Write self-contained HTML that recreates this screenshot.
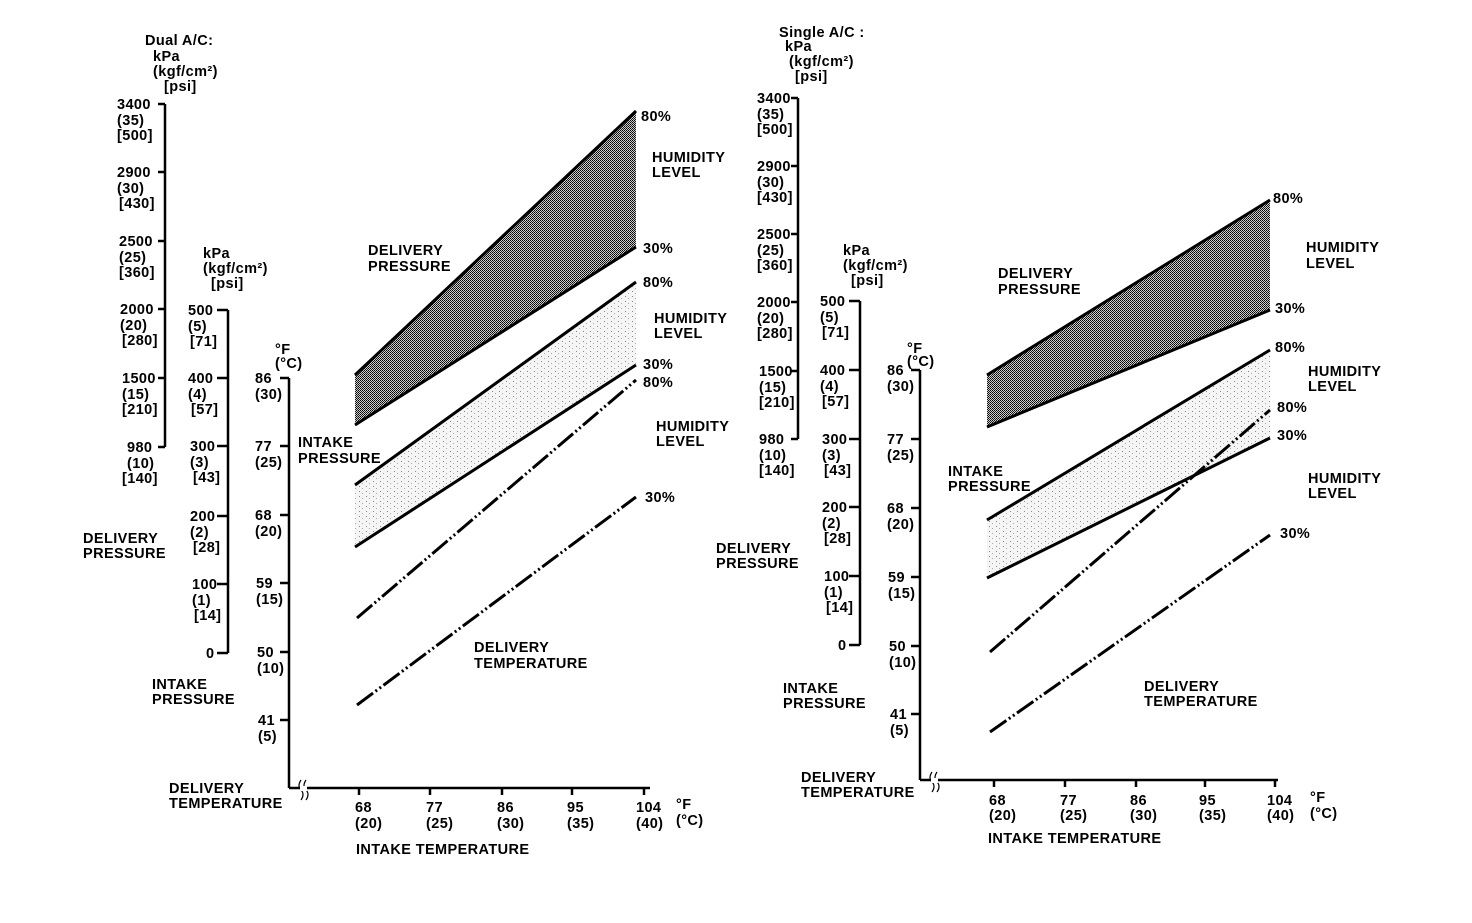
<!DOCTYPE html>
<html><head><meta charset="utf-8"><style>
html,body{margin:0;padding:0;background:#fff;}
svg text{font-family:"Liberation Sans",sans-serif;font-weight:bold;font-size:14.5px;letter-spacing:0.4px;fill:#000;}
</style></head><body>
<svg width="1472" height="918" viewBox="0 0 1472 918" xmlns="http://www.w3.org/2000/svg">
<defs>
<pattern id="dk" width="2" height="2" patternUnits="userSpaceOnUse"><rect width="2" height="2" fill="#ccc"/><rect width="1" height="1" fill="#000"/><rect x="1" y="1" width="1" height="1" fill="#222"/></pattern>
<pattern id="lt" width="7" height="5" patternUnits="userSpaceOnUse"><rect width="7" height="5" fill="#f5f5f5"/><rect x="2" y="1" width="1" height="1" fill="#888"/><rect x="5" y="3" width="1" height="1" fill="#aaa"/></pattern>
</defs>
<g stroke="#000" fill="none" stroke-width="2.5">
<line x1="165" y1="104" x2="165" y2="447"/>
<line x1="158" y1="104" x2="165" y2="104"/><line x1="158" y1="172" x2="165" y2="172"/><line x1="158" y1="241" x2="165" y2="241"/><line x1="158" y1="309" x2="165" y2="309"/><line x1="158" y1="378" x2="165" y2="378"/><line x1="158" y1="447" x2="165" y2="447"/>
<line x1="228" y1="310" x2="228" y2="653"/>
<line x1="217" y1="310" x2="228" y2="310"/><line x1="217" y1="378" x2="228" y2="378"/><line x1="217" y1="446" x2="228" y2="446"/><line x1="217" y1="516" x2="228" y2="516"/><line x1="217" y1="584" x2="228" y2="584"/><line x1="217" y1="653" x2="228" y2="653"/>
<line x1="289" y1="378" x2="289" y2="788"/>
<line x1="280" y1="378" x2="289" y2="378"/><line x1="280" y1="446" x2="289" y2="446"/><line x1="280" y1="515" x2="289" y2="515"/><line x1="280" y1="583" x2="289" y2="583"/><line x1="280" y1="652" x2="289" y2="652"/><line x1="280" y1="720" x2="289" y2="720"/>
<line x1="289" y1="788" x2="650" y2="788"/>
<line x1="359" y1="788" x2="359" y2="795"/><line x1="430" y1="788" x2="430" y2="795"/><line x1="502" y1="788" x2="502" y2="795"/><line x1="572" y1="788" x2="572" y2="795"/><line x1="644" y1="788" x2="644" y2="795"/>
<line x1="798" y1="98" x2="798" y2="439"/>
<line x1="791" y1="98" x2="798" y2="98"/><line x1="791" y1="166" x2="798" y2="166"/><line x1="791" y1="234" x2="798" y2="234"/><line x1="791" y1="302" x2="798" y2="302"/><line x1="791" y1="371" x2="798" y2="371"/><line x1="791" y1="439" x2="798" y2="439"/>
<line x1="860" y1="301" x2="860" y2="645"/>
<line x1="849" y1="301" x2="860" y2="301"/><line x1="849" y1="370" x2="860" y2="370"/><line x1="849" y1="439" x2="860" y2="439"/><line x1="849" y1="507" x2="860" y2="507"/><line x1="849" y1="576" x2="860" y2="576"/><line x1="849" y1="645" x2="860" y2="645"/>
<line x1="920" y1="370" x2="920" y2="780"/>
<line x1="911" y1="370" x2="920" y2="370"/><line x1="911" y1="439" x2="920" y2="439"/><line x1="911" y1="508" x2="920" y2="508"/><line x1="911" y1="577" x2="920" y2="577"/><line x1="911" y1="646" x2="920" y2="646"/><line x1="911" y1="714" x2="920" y2="714"/>
<line x1="920" y1="780" x2="1278" y2="780"/>
<line x1="994" y1="780" x2="994" y2="787"/><line x1="1065" y1="780" x2="1065" y2="787"/><line x1="1136" y1="780" x2="1136" y2="787"/><line x1="1205" y1="780" x2="1205" y2="787"/><line x1="1275" y1="780" x2="1275" y2="787"/>
</g>
<g stroke="#000" stroke-width="1.2" fill="none">
<path d="M301 780 q-4 6 0 10 q4 4 0 10"/><path d="M306 780 q-4 6 0 10 q4 4 0 10"/>
<path d="M932 772 q-4 6 0 10 q4 4 0 10"/><path d="M937 772 q-4 6 0 10 q4 4 0 10"/>
</g>
<rect x="300" y="786" width="7" height="5" fill="#fff"/><rect x="931" y="778" width="7" height="5" fill="#fff"/>
<polygon points="355,375 636,111 636,247 355,425" fill="url(#dk)"/>
<polygon points="355,485 636,282 636,365 355,547" fill="url(#lt)"/>
<g stroke="#000" stroke-width="3" fill="none">
<line x1="355" y1="375" x2="636" y2="111"/><line x1="355" y1="425" x2="636" y2="247"/>
<line x1="355" y1="485" x2="636" y2="282"/><line x1="355" y1="547" x2="636" y2="365"/>
<line x1="357" y1="618" x2="636" y2="380" stroke-dasharray="20 3 2 3 2 3"/>
<line x1="357" y1="705" x2="636" y2="497" stroke-dasharray="20 3 2 3 2 3"/>
</g>
<polygon points="987,375 1270,200 1270,310 987,427" fill="url(#dk)"/>
<polygon points="987,520 1270,350 1270,438 987,578" fill="url(#lt)"/>
<g stroke="#000" stroke-width="3" fill="none">
<line x1="987" y1="375" x2="1270" y2="200"/><line x1="987" y1="427" x2="1270" y2="310"/>
<line x1="987" y1="520" x2="1270" y2="350"/><line x1="987" y1="578" x2="1270" y2="438"/>
<line x1="990" y1="652" x2="1270" y2="410" stroke-dasharray="20 3 2 3 2 3"/>
<line x1="990" y1="732" x2="1270" y2="535" stroke-dasharray="20 3 2 3 2 3"/>
</g>
<text x="145" y="45">Dual A/C:</text>
<text x="153" y="61">kPa</text><text x="153" y="76">(kgf/cm²)</text><text x="164" y="91">[psi]</text>
<text x="117" y="109">3400</text><text x="117" y="125">(35)</text><text x="117" y="140">[500]</text>
<text x="117" y="177">2900</text><text x="117" y="193">(30)</text><text x="119" y="208">[430]</text>
<text x="119" y="246">2500</text><text x="119" y="262">(25)</text><text x="119" y="277">[360]</text>
<text x="120" y="314">2000</text><text x="120" y="330">(20)</text><text x="122" y="345">[280]</text>
<text x="122" y="383">1500</text><text x="122" y="399">(15)</text><text x="122" y="414">[210]</text>
<text x="127" y="452">980</text><text x="127" y="468">(10)</text><text x="122" y="483">[140]</text>
<text x="203" y="258">kPa</text><text x="203" y="273">(kgf/cm²)</text><text x="211" y="288">[psi]</text>
<text x="188" y="315">500</text><text x="188" y="331">(5)</text><text x="190" y="346">[71]</text>
<text x="188" y="383">400</text><text x="188" y="399">(4)</text><text x="191" y="414">[57]</text>
<text x="190" y="451">300</text><text x="190" y="467">(3)</text><text x="193" y="482">[43]</text>
<text x="190" y="521">200</text><text x="190" y="537">(2)</text><text x="193" y="552">[28]</text>
<text x="192" y="589">100</text><text x="192" y="605">(1)</text><text x="194" y="620">[14]</text>
<text x="206" y="658">0</text>
<text x="275" y="354">°F</text><text x="275" y="368">(°C)</text>
<text x="255" y="383">86</text><text x="255" y="399">(30)</text>
<text x="255" y="451">77</text><text x="255" y="467">(25)</text>
<text x="255" y="520">68</text><text x="255" y="536">(20)</text>
<text x="256" y="588">59</text><text x="256" y="604">(15)</text>
<text x="257" y="657">50</text><text x="257" y="673">(10)</text>
<text x="258" y="725">41</text><text x="258" y="741">(5)</text>
<text x="355" y="812">68</text><text x="355" y="828">(20)</text>
<text x="426" y="812">77</text><text x="426" y="828">(25)</text>
<text x="497" y="812">86</text><text x="497" y="828">(30)</text>
<text x="567" y="812">95</text><text x="567" y="828">(35)</text>
<text x="636" y="812">104</text><text x="636" y="828">(40)</text>
<text x="676" y="809">°F</text><text x="676" y="825">(°C)</text>
<text x="356" y="854">INTAKE TEMPERATURE</text>
<text x="83" y="543">DELIVERY</text><text x="83" y="558">PRESSURE</text>
<text x="152" y="689">INTAKE</text><text x="152" y="704">PRESSURE</text>
<text x="169" y="793">DELIVERY</text><text x="169" y="808">TEMPERATURE</text>
<text x="641" y="121">80%</text>
<text x="652" y="162">HUMIDITY</text><text x="652" y="177">LEVEL</text>
<text x="643" y="253">30%</text>
<text x="368" y="255">DELIVERY</text><text x="368" y="271">PRESSURE</text>
<text x="643" y="287">80%</text>
<text x="654" y="323">HUMIDITY</text><text x="654" y="338">LEVEL</text>
<text x="643" y="369">30%</text><text x="643" y="387">80%</text>
<text x="656" y="431">HUMIDITY</text><text x="656" y="446">LEVEL</text>
<text x="645" y="502">30%</text>
<text x="298" y="447">INTAKE</text><text x="298" y="463">PRESSURE</text>
<text x="474" y="652">DELIVERY</text><text x="474" y="668">TEMPERATURE</text>
<text x="779" y="37">Single A/C :</text>
<text x="785" y="51">kPa</text><text x="789" y="66">(kgf/cm²)</text><text x="795" y="81">[psi]</text>
<text x="757" y="103">3400</text><text x="757" y="119">(35)</text><text x="757" y="134">[500]</text>
<text x="757" y="171">2900</text><text x="757" y="187">(30)</text><text x="757" y="202">[430]</text>
<text x="757" y="239">2500</text><text x="757" y="255">(25)</text><text x="757" y="270">[360]</text>
<text x="757" y="307">2000</text><text x="757" y="323">(20)</text><text x="757" y="338">[280]</text>
<text x="759" y="376">1500</text><text x="759" y="392">(15)</text><text x="759" y="407">[210]</text>
<text x="759" y="444">980</text><text x="759" y="460">(10)</text><text x="759" y="475">[140]</text>
<text x="843" y="255">kPa</text><text x="843" y="270">(kgf/cm²)</text><text x="851" y="285">[psi]</text>
<text x="820" y="306">500</text><text x="820" y="322">(5)</text><text x="822" y="337">[71]</text>
<text x="820" y="375">400</text><text x="820" y="391">(4)</text><text x="822" y="406">[57]</text>
<text x="822" y="444">300</text><text x="822" y="460">(3)</text><text x="824" y="475">[43]</text>
<text x="822" y="512">200</text><text x="822" y="528">(2)</text><text x="824" y="543">[28]</text>
<text x="824" y="581">100</text><text x="824" y="597">(1)</text><text x="826" y="612">[14]</text>
<text x="838" y="650">0</text>
<text x="907" y="353">°F</text><text x="907" y="366">(°C)</text>
<text x="887" y="375">86</text><text x="887" y="391">(30)</text>
<text x="887" y="444">77</text><text x="887" y="460">(25)</text>
<text x="887" y="513">68</text><text x="887" y="529">(20)</text>
<text x="888" y="582">59</text><text x="888" y="598">(15)</text>
<text x="889" y="651">50</text><text x="889" y="667">(10)</text>
<text x="890" y="719">41</text><text x="890" y="735">(5)</text>
<text x="989" y="805">68</text><text x="989" y="820">(20)</text>
<text x="1060" y="805">77</text><text x="1060" y="820">(25)</text>
<text x="1130" y="805">86</text><text x="1130" y="820">(30)</text>
<text x="1199" y="805">95</text><text x="1199" y="820">(35)</text>
<text x="1267" y="805">104</text><text x="1267" y="820">(40)</text>
<text x="1310" y="802">°F</text><text x="1310" y="818">(°C)</text>
<text x="988" y="843">INTAKE TEMPERATURE</text>
<text x="716" y="553">DELIVERY</text><text x="716" y="568">PRESSURE</text>
<text x="783" y="693">INTAKE</text><text x="783" y="708">PRESSURE</text>
<text x="801" y="782">DELIVERY</text><text x="801" y="797">TEMPERATURE</text>
<text x="1273" y="203">80%</text>
<text x="1306" y="252">HUMIDITY</text><text x="1306" y="268">LEVEL</text>
<text x="1275" y="313">30%</text>
<text x="998" y="278">DELIVERY</text><text x="998" y="294">PRESSURE</text>
<text x="1275" y="352">80%</text>
<text x="1308" y="376">HUMIDITY</text><text x="1308" y="391">LEVEL</text>
<text x="1277" y="412">80%</text><text x="1277" y="440">30%</text>
<text x="1308" y="483">HUMIDITY</text><text x="1308" y="498">LEVEL</text>
<text x="1280" y="538">30%</text>
<text x="948" y="476">INTAKE</text><text x="948" y="491">PRESSURE</text>
<text x="1144" y="691">DELIVERY</text><text x="1144" y="706">TEMPERATURE</text>
</svg>
</body></html>
